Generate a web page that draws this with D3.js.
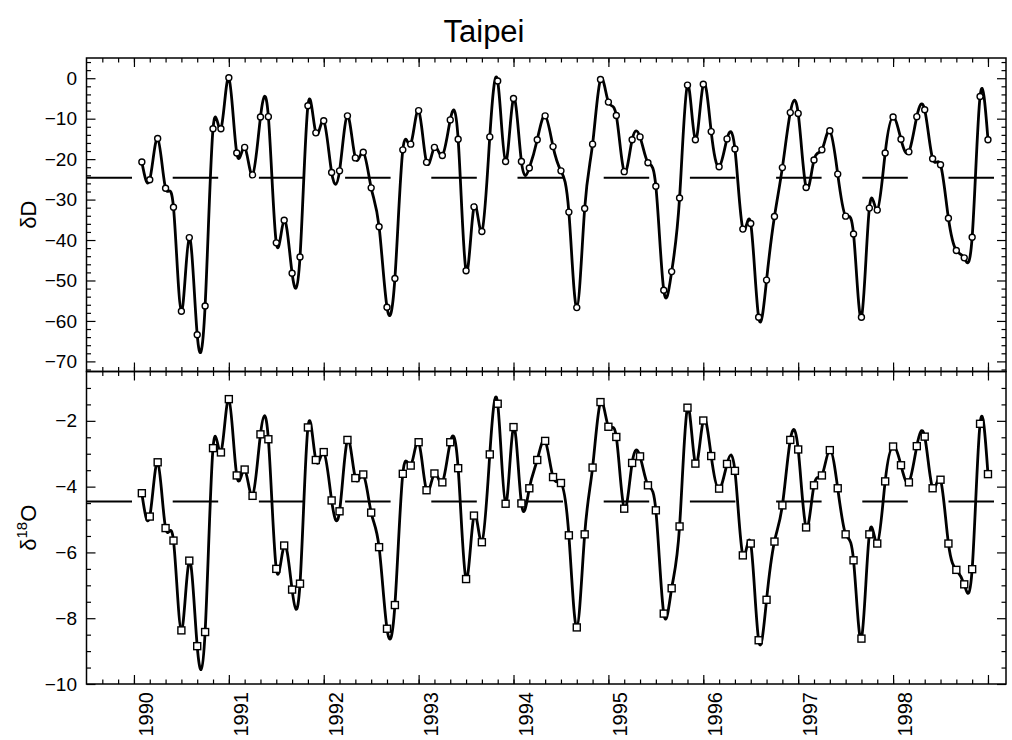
<!DOCTYPE html>
<meta charset="utf-8">
<style>

body {
  margin: 0;
  background: #fff;
}

text {
  font-family: "Liberation Sans", Arial, sans-serif;
  fill: #000;
}

.frame {
  fill: none;
  stroke: #000;
  stroke-width: 1.5;
}

.curve {
  fill: none;
  stroke: #000;
  stroke-width: 2.8;
  stroke-linejoin: round;
}

.mean {
  stroke: #000;
  stroke-width: 2;
  stroke-dasharray: 45.5, 40.7;
}

.tick line {
  stroke: #000;
  stroke-width: 1.2;
}

</style>

<svg width="1012" height="740"></svg>
<script src="https://d3js.org/d3.v7.min.js"></script>
<script>

var title = "Taipei";

var years = [1990, 1991, 1992, 1993, 1994, 1995, 1996, 1997, 1998];

// monthly deltaD, Jan 1990 .. Dec 1998
var dD = [
  -20.7, -25.1, -14.9, -27.2, -31.9, -57.6, -39.4, -63.4, -56.3, -12.5, -12.5, 0.1,
  -18.5, -17.1, -23.9, -9.6, -9.5, -40.7, -35.1, -48.2, -44.2, -6.8, -13.5, -10.5,
  -23.3, -22.9, -9.3, -19.7, -18.3, -27.1, -36.7, -56.6, -49.5, -17.7, -16.3, -8.0,
  -20.8, -17.1, -19.1, -10.3, -15.1, -47.6, -31.8, -37.9, -14.5, -0.7, -20.6, -5.0,
  -20.6, -22.2, -15.2, -9.3, -16.9, -22.9, -33.1, -56.7, -32.2, -16.3, -0.3, -5.9,
  -9.2, -23.1, -15.2, -14.5, -20.9, -26.7, -52.4, -47.8, -29.6, -1.7, -15.2, -1.5,
  -13.2, -21.9, -15.0, -17.5, -37.3, -35.9, -59.1, -49.9, -34.2, -22.1, -8.5, -8.7,
  -27.0, -20.2, -17.7, -13.0, -23.7, -34.1, -38.5, -59.1, -32.1, -32.6, -18.5, -9.6,
  -15.1, -18.2, -9.5, -7.8, -19.9, -21.4, -34.6, -42.6, -44.4, -39.3, -4.5, -15.2
];

// monthly delta18O, Jan 1990 .. Dec 1998
var d18O = [
  -4.20, -4.91, -3.26, -5.26, -5.64, -8.37, -6.25, -8.85, -8.42, -2.83, -2.96, -1.34,
  -3.66, -3.48, -4.28, -2.41, -2.56, -6.50, -5.79, -7.13, -6.95, -2.20, -3.19, -2.95,
  -4.42, -4.75, -2.58, -3.74, -3.63, -4.79, -5.84, -8.32, -7.60, -3.61, -3.36, -2.65,
  -4.11, -3.60, -3.87, -2.65, -3.44, -6.81, -4.88, -5.69, -3.02, -1.48, -4.52, -2.19,
  -4.51, -4.05, -3.19, -2.61, -3.71, -3.89, -5.48, -8.28, -5.45, -3.42, -1.43, -2.18,
  -2.49, -4.67, -3.28, -3.08, -3.96, -4.72, -7.86, -7.09, -5.21, -1.60, -3.30, -1.99,
  -3.07, -4.06, -3.31, -3.52, -6.09, -5.73, -8.67, -7.44, -5.67, -4.57, -2.58, -2.87,
  -5.24, -3.96, -3.66, -2.89, -4.05, -5.45, -6.24, -8.62, -5.45, -5.73, -3.84, -2.78,
  -3.35, -3.87, -2.77, -2.48, -4.05, -3.79, -5.73, -6.53, -6.97, -6.51, -2.09, -3.62
];

var dDMean = -24.6;
var d18OMean = -4.45;

var dDTicks = [0, -10, -20, -30, -40, -50, -60, -70];
var d18OTicks = [-2, -4, -6, -8, -10];

var svg = d3.select("svg");

var left = 86.5, right = 1006,
    top1 = 58, mid = 371.5, bottom2 = 684;

var x = d3.scaleLinear()
  .domain([1989.5, 1999.19])
  .range([left, right]);

var yD = d3.scaleLinear()
  .domain([5, -72.5])
  .range([top1, mid]);

var yO = d3.scaleLinear()
  .domain([-0.5, -10])
  .range([mid, bottom2]);

// each value sits at the end of its month
var times = [];
years.forEach(function(yr) {
  for (var m = 1; m <= 12; m++) times.push(yr + m / 12);
});

var majorX = years.concat([1999]);
var minorX = d3.range(-2, 56).map(function(k) { return 1990 + k / 6; })
  .filter(function(t) { return t > 1989.55 && t < 1999.15; });

function drawTicks(g, axis) {
  g.call(axis).select(".domain").remove();
}

function panel(y, majorY, minorY, yTop, yBot) {
  // y ticks left with labels, right without
  svg.append("g")
      .attr("transform", "translate(" + left + ",0)")
      .call(drawTicks, d3.axisLeft(y).tickValues(minorY).tickSize(-4.5).tickFormat(""));
  var gl = svg.append("g")
      .attr("transform", "translate(" + left + ",0)");
  gl.call(drawTicks, d3.axisLeft(y).tickValues(majorY).tickSize(-9).tickPadding(9.5).tickFormat(d3.format("d")));
  gl.selectAll("text").attr("font-size", 19).style("font-family", null);

  svg.append("g")
      .attr("transform", "translate(" + right + ",0)")
      .call(drawTicks, d3.axisRight(y).tickValues(minorY).tickSize(-4.5).tickFormat(""));
  svg.append("g")
      .attr("transform", "translate(" + right + ",0)")
      .call(drawTicks, d3.axisRight(y).tickValues(majorY).tickSize(-9).tickFormat(""));

  // x ticks on top and bottom edges, pointing inward
  svg.append("g")
      .attr("transform", "translate(0," + yTop + ")")
      .call(drawTicks, d3.axisTop(x).tickValues(minorX).tickSize(-4.5).tickFormat(""));
  svg.append("g")
      .attr("transform", "translate(0," + yTop + ")")
      .call(drawTicks, d3.axisTop(x).tickValues(majorX).tickSize(-9).tickFormat(""));
  svg.append("g")
      .attr("transform", "translate(0," + yBot + ")")
      .call(drawTicks, d3.axisBottom(x).tickValues(minorX).tickSize(-4.5).tickFormat(""));
  svg.append("g")
      .attr("transform", "translate(0," + yBot + ")")
      .call(drawTicks, d3.axisBottom(x).tickValues(majorX).tickSize(-9).tickFormat(""));

  svg.append("rect")
      .attr("class", "frame")
      .attr("x", left)
      .attr("y", yTop)
      .attr("width", right - left)
      .attr("height", yBot - yTop);
}

panel(yD, dDTicks, d3.range(4, -73, -2).filter(function(v) { return v % 10 != 0; }), top1, mid);
panel(yO, d18OTicks, d3.range(-1, -10, -0.5).filter(function(v) { return v % 2 != 0; }), mid, bottom2);

// mean lines
svg.append("line")
    .attr("class", "mean")
    .attr("x1", left).attr("x2", right)
    .attr("y1", yD(dDMean)).attr("y2", yD(dDMean));

svg.append("line")
    .attr("class", "mean")
    .attr("x1", left).attr("x2", right)
    .attr("y1", yO(d18OMean)).attr("y2", yO(d18OMean));

// curves
var lineD = d3.line()
  .x(function(d, i) { return x(times[i]); })
  .y(function(d) { return yD(d); })
  .curve(d3.curveNatural);

var lineO = d3.line()
  .x(function(d, i) { return x(times[i]); })
  .y(function(d) { return yO(d); })
  .curve(d3.curveNatural);

svg.append("path")
    .datum(dD)
    .attr("class", "curve")
    .attr("d", lineD);

svg.append("path")
    .datum(d18O)
    .attr("class", "curve")
    .attr("d", lineO);

// markers
svg.append("g")
  .selectAll("circle")
  .data(dD)
  .enter().append("circle")
    .attr("cx", function(d, i) { return x(times[i]); })
    .attr("cy", function(d) { return yD(d); })
    .attr("r", 3)
    .attr("fill", "#fff")
    .attr("stroke", "#000")
    .attr("stroke-width", 1.4);

svg.append("g")
  .selectAll("rect")
  .data(d18O)
  .enter().append("rect")
    .attr("x", function(d, i) { return x(times[i]) - 3.5; })
    .attr("y", function(d) { return yO(d) - 3.5; })
    .attr("width", 7)
    .attr("height", 7)
    .attr("fill", "#fff")
    .attr("stroke", "#000")
    .attr("stroke-width", 1.4);

// year labels
svg.append("g")
  .selectAll("text")
  .data(years)
  .enter().append("text")
    .attr("transform", function(d) {
      return "translate(" + (x(d) + 12) + ",692) rotate(-90)";
    })
    .attr("text-anchor", "end")
    .attr("dy", "0.35em")
    .attr("font-size", 20)
    .text(function(d) { return d; });

// axis titles
svg.append("text")
    .attr("transform", "translate(28," + (top1 + mid) / 2 + ") rotate(-90)")
    .attr("text-anchor", "middle")
    .attr("dy", "0.35em")
    .attr("font-size", 22)
    .text("δD");

var t2 = svg.append("text")
    .attr("transform", "translate(28," + (mid + bottom2) / 2 + ") rotate(-90)")
    .attr("text-anchor", "middle")
    .attr("dy", "0.35em")
    .attr("font-size", 22);
t2.append("tspan").text("δ");
t2.append("tspan").attr("font-size", 15).attr("dy", "-0.6em").text("18");
t2.append("tspan").attr("dy", "0.4em").text("O");

svg.append("text")
    .attr("x", 484)
    .attr("y", 42)
    .attr("text-anchor", "middle")
    .attr("font-size", 31)
    .text(title);

</script>
